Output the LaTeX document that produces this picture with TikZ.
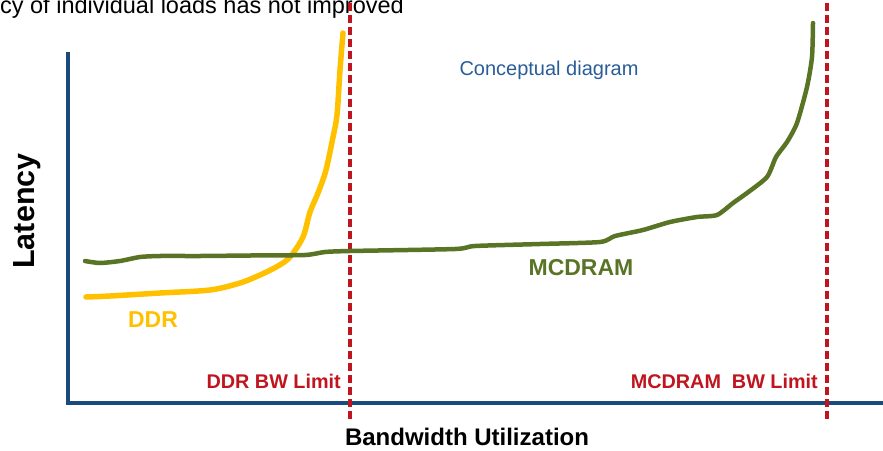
\documentclass[tikz,border=0pt]{standalone}
\usepackage{fontspec}
\setmainfont{Liberation Sans}
\definecolor{axisblue}{HTML}{1B4A7E}
\definecolor{noteblue}{HTML}{2A5C98}
\definecolor{limitred}{HTML}{C0141E}
\definecolor{mcgreen}{HTML}{5A7426}
\definecolor{ddryellow}{HTML}{FFC000}
\tikzset{
  axisline/.style={draw=axisblue, line width=3.4pt},
  limitline/.style={draw=limitred, line width=3.6pt, dash pattern=on 8pt off 4pt},
  curve/.style={line width=#1, line cap=round, line join=round},
  limitlabel/.style={text=limitred, font=\bfseries\fontsize{19.8}{23}\selectfont, inner sep=0pt},
}
\begin{document}
\begin{tikzpicture}[x=1pt, y=-1pt]
\useasboundingbox (0,0) rectangle (883,450);
\clip (0,0) rectangle (883,450);

% heading, running off the left edge
\node[anchor=base east, inner sep=0pt, font=\fontsize{23.5}{27}\selectfont] (head) at (404,13) {cy of individual loads has not improved};

% axes
\draw[axisline] (68,52) -- (68,403) -- (883,403);

% bandwidth limits
\draw[limitline] (350,3) -- (350,422);
\draw[limitline] (827,3) -- (827,420);

% DDR latency curve
\draw[ddryellow, curve=5.5pt] plot[smooth, tension=0.5] coordinates {
  (86,297) (110,296) (160,293) (210,290) (240,283) (260,275) (278,266)
  (290,257) (303,237) (310,212) (318,193) (326,170) (333,137) (337,115)
  (340,70) (343,33)};

% MCDRAM latency curve
\draw[mcgreen, curve=4.5pt] plot[smooth, tension=0.4] coordinates {
  (85,261) (100,263) (120,261) (140,257) (160,256) (200,256) (250,255.5)
  (305,255) (325,252) (350,251) (455,249) (475,246) (540,244) (600,242)
  (615,236) (643,230) (670,222) (697,217) (717,215) (733,203) (747,193)
  (767,177) (776,157) (787,142) (797,123) (807,87) (812,57) (813,23)};

% labels
\node[rotate=90, font=\bfseries\fontsize{30.5}{34}\selectfont, inner sep=0pt] (ylab) at (27,211) {Latency};
\node[font=\bfseries\fontsize{24}{28}\selectfont, inner sep=0pt] (xlab) at (467,437) {Bandwidth Utilization};
\node[text=noteblue, font=\fontsize{20}{24}\selectfont, inner sep=0pt] (note) at (549,70) {Conceptual diagram};
\node[text=mcgreen, font=\bfseries\fontsize{23}{27}\selectfont, inner sep=0pt] (mclab) at (581,268) {MCDRAM};
\node[text=ddryellow, font=\bfseries\fontsize{23}{27}\selectfont, inner sep=0pt] (ddrlab) at (153,320) {DDR};
\node[limitlabel, anchor=east] (ddrlim) at (341,381) {DDR BW Limit};
\node[limitlabel, anchor=east] (mclim) at (818,381) {MCDRAM\ \ BW Limit};
\end{tikzpicture}
\end{document}
